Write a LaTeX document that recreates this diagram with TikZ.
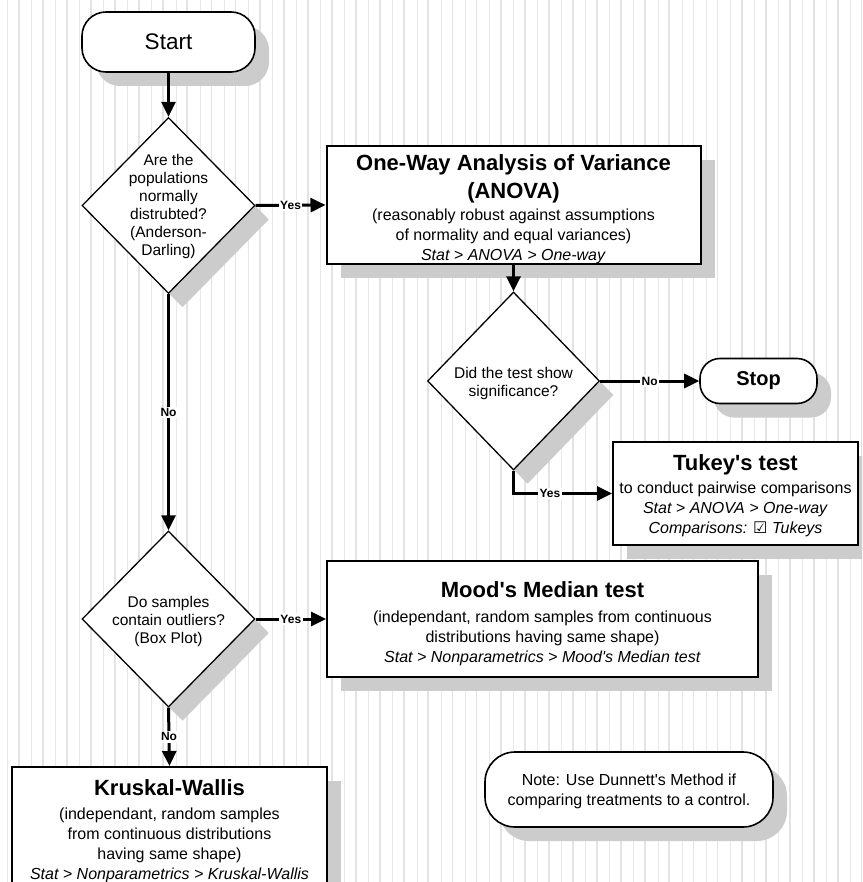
\documentclass[tikz,border=0pt]{standalone}
\usepackage{fontspec}
\setmainfont{Liberation Sans}[Ligatures=TeXOff]
\newfontfamily\symfont{DejaVu Sans}
\usetikzlibrary{shapes.geometric,arrows.meta,shadows}

% type sizes used in the chart
\newcommand{\titlefont}{\fontsize{22}{27}\selectfont\bfseries}
\newcommand{\bodyfont}{\fontsize{16}{20}\selectfont\lineskiplimit=-40pt\relax}
\newcommand{\askfont}{\fontsize{15.5}{18}\selectfont\lineskiplimit=-40pt\relax}
\newcommand{\tagfont}{\fontsize{12}{14}\selectfont\bfseries}

\begin{document}
\begin{tikzpicture}[x=1pt,y=-1pt,
  boxshadow/.style={drop shadow={shadow xshift=14pt,shadow yshift=-14pt,fill=black!20,opacity=1}},
  procbox/.style={rectangle,draw=black,line width=2pt,fill=white,inner sep=0pt,boxshadow},
  boxtext/.style={align=center,inner sep=0pt,font=\bodyfont},
  terminal/.style={rectangle,rounded corners=#1,draw=black,line width=1.6pt,fill=white,align=center,inner sep=0pt,boxshadow},
  decision/.style={diamond,draw=black,line width=1.3pt,fill=white,inner sep=0pt,minimum width=173pt,minimum height=176pt,boxshadow},
  asktext/.style={align=center,inner sep=0pt,font=\askfont},
  flow/.style={line width=3pt,-{Triangle[length=15pt,width=14pt]}},
  tag/.style={fill=white,inner sep=1.5pt,font=\tagfont},
  thinrule/.style={line width=1pt,draw=black!9},
  thickrule/.style={line width=1.8pt,draw=black!11}
]
\path[use as bounding box] (0,0) rectangle (862,882);
\clip (0,0) rectangle (862,882);
\fill[white] (0,0) rectangle (862,882);

% striped page background
\foreach \k in {0,...,35}{
  \draw[thinrule] (7.3+24.1*\k,0) -- (7.3+24.1*\k,882);
  \draw[thickrule] (18.6+24.1*\k,0) -- (18.6+24.1*\k,882);
}

% start / stop terminals
\node[terminal=24,minimum width=173pt,minimum height=60pt,font=\fontsize{22.5}{26}\selectfont] (start) at (168.5,42) {Start};
\node[terminal=20,minimum width=117pt,minimum height=45pt,font=\fontsize{20}{24}\selectfont\bfseries] (stop) at (758.5,381) {Stop};

% decisions
\node[decision] (q1) at (168.5,205.5) {};
\node[asktext] (q1txt) at ([yshift=-1pt]q1.center) {Are the\\populations\\normally\\distrubted?\\(Anderson-\\Darling)};

\node[decision,minimum width=172pt,minimum height=178pt] (q2) at (513.5,381) {};
\node[asktext] (q2txt) at ([yshift=-2.5pt]q2.center) {Did the test show\\significance?};

\node[decision] (q3) at (168.5,619) {};
\node[asktext] (q3txt) at ([yshift=-2pt]q3.center) {Do samples\\contain outliers?\\(Box Plot)};

% procedures
\node[procbox,minimum width=374pt,minimum height=118pt] (anova) at (513.5,205) {};
\node[boxtext] (anovatxt) at ([yshift=-4pt]anova.center) {%
  {\titlefont One-Way Analysis of Variance}\\[8pt]
  {\titlefont (ANOVA)}\\[2pt]
  (reasonably robust against assumptions\\
  of normality and equal variances)\\
  \textit{Stat > ANOVA > One-way}};

\node[procbox,minimum width=245pt,minimum height=103pt] (tukey) at (735.5,493.5) {};
\node[boxtext] (tukeytxt) at ([yshift=-2pt]tukey.center) {%
  {\titlefont Tukey's test}\\[3pt]
  to conduct pairwise comparisons\\
  \textit{Stat > ANOVA > One-way}\\
  \textit{Comparisons: {\symfont ☑} Tukeys}};

\node[procbox,minimum width=431pt,minimum height=116pt] (mood) at (542.5,619) {};
\node[boxtext] (moodtxt) at ([yshift=-5pt]mood.center) {%
  {\titlefont Mood's Median test}\\[5pt]
  (independant, random samples from continuous\\
  distributions having same shape)\\
  \textit{Stat > Nonparametrics > Mood's Median test}};

\node[procbox,minimum width=315pt,minimum height=118pt] (kw) at (169.5,826) {};
\node[boxtext] (kwtxt) at ([yshift=-5pt]kw.center) {%
  {\titlefont Kruskal-Wallis}\\[4pt]
  (independant, random samples\\
  from continuous distributions\\
  having same shape)\\
  \textit{Stat > Nonparametrics > Kruskal-Wallis}};

\node[terminal=30,minimum width=288pt,minimum height=75pt] (note) at (629,789.5) {};
\node[boxtext] (notetxt) at ([yshift=-2pt]note.center) {%
  Note: Use Dunnett's Method if\\comparing treatments to a control.};

% flow connectors
\draw[flow] (start.south) -- (q1.north);
\draw[flow] (q1.east) -- node[tag] (y1) {Yes} (anova.west);
\draw[flow] (q1.south) -- node[tag] (n1) {No} (q3.north);
\draw[flow] (anova.south) -- (q2.north);
\draw[flow] (q2.east) -- node[tag] (n2) {No} (stop.west);
\draw[flow] (q2.south) |- node[tag,pos=0.685] (y2) {Yes} (tukey.west);
\draw[flow] (q3.east) -- node[tag] (y3) {Yes} (mood.west);
\draw[flow] (q3.south) -- node[tag] (n3) {No} (kw.north);
\end{tikzpicture}
\end{document}
